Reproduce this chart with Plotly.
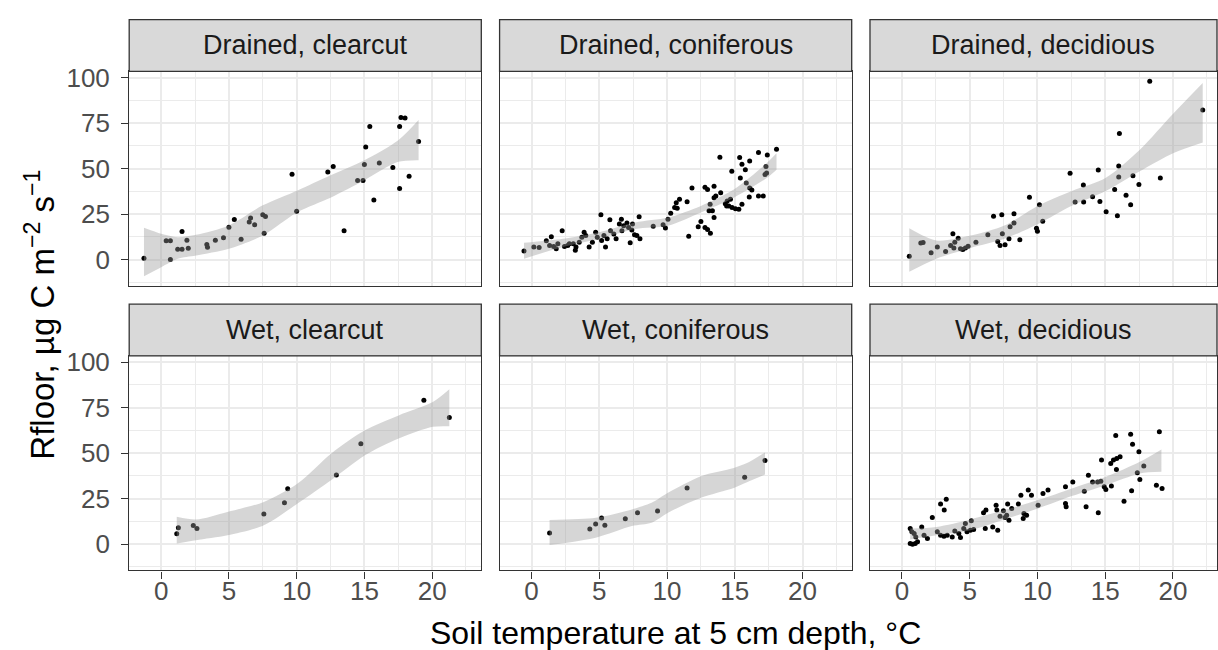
import plotly.graph_objects as go

# ---------------- data ----------------
panel_titles = ["Drained, clearcut", "Drained, coniferous", "Drained, decidious",
                "Wet, clearcut", "Wet, coniferous", "Wet, decidious"]

dc_x = [-1.27, 0.68, 1.54, 0.37, 0.68, 1.22, 1.54, 1.9, 2.0, 3.37, 3.42, 4.0, 4.6, 5.0, 5.4, 5.9,
        6.5, 6.6, 6.9, 7.5, 7.7, 7.6, 9.66, 10.0, 12.3, 12.7, 13.5, 14.5, 14.9, 15.0, 15.1, 15.4,
        15.7, 16.1, 17.1, 17.6, 17.6, 17.7, 18.0, 18.3, 19.0]
dc_y = [0.7, 0.0, 15.4, 10.3, 10.3, 5.7, 5.7, 10.7, 6.3, 8.3, 6.8, 10.7, 12.0, 17.8, 22.1, 11.2,
        20.6, 22.8, 19.1, 24.6, 23.7, 14.5, 46.9, 26.5, 48.2, 51.1, 15.8, 43.4, 43.4, 52.2, 61.9, 73.2,
        32.7, 53.1, 50.6, 73.2, 39.0, 78.1, 77.8, 45.8, 64.9]
dc_rx = [-1.27, 0.0, 1.22, 2.57, 5.0, 7.5, 10.07, 12.5, 15.0, 17.5, 19.0]
dc_lo = [-9.2, -4.2, 0.4, 2.2, 5.9, 13.2, 26.1, 34.0, 43.6, 53.7, 54.6]
dc_hi = [17.5, 14.2, 12.3, 13.6, 18.8, 29.8, 38.0, 46.3, 54.6, 65.6, 76.7]

dn_x = [-0.56, 0.17, 0.56, 1.09, 1.46, 1.33, 1.63, 1.82, 1.94, 2.26, 2.43, 2.67, 2.79, 3.08, 3.28,
        3.23, 3.52, 3.71, 3.88, 4.0, 4.25, 4.49, 4.73, 4.85, 5.12, 5.17, 5.34, 5.46, 5.58, 5.78,
        5.83, 6.07, 6.24, 6.48, 6.63, 6.67, 6.8, 7.04, 7.16, 7.28, 7.4, 7.45, 7.6, 7.77, 7.94,
        8.0, 8.98, 9.71, 9.88, 10.07, 10.27, 10.56, 10.68, 10.92, 10.75, 11.48, 11.6, 11.84, 12.3,
        12.5, 12.8, 12.99, 13.2, 12.8, 12.99, 13.47, 13.1, 13.35, 13.18, 13.47, 13.6, 13.47, 13.9,
        13.96, 14.3, 14.44, 14.56, 14.68, 14.4, 14.8, 15.05, 15.3, 14.78, 15.36, 15.53, 15.78,
        15.41, 15.53, 15.85, 16.1, 16.26, 16.1, 16.07, 16.75, 16.75, 17.1, 17.4, 17.3, 17.23,
        17.35, 18.08]
dn_y = [4.7, 6.9, 6.7, 10.3, 12.5, 7.8, 7.2, 6.0, 8.7, 15.9, 7.2, 7.8, 8.7, 8.7, 6.9,
        5.1, 9.6, 12.3, 15.0, 13.2, 6.9, 9.6, 15.0, 12.3, 24.6, 10.5, 13.2, 6.9, 11.4, 21.9,
        15.9, 14.1, 11.4, 19.5, 22.2, 15.9, 18.6, 20.1, 17.7, 9.2, 16.3, 19.5, 13.7, 13.2, 23.5,
        11.4, 18.3, 19.2, 17.4, 22.2, 25.5, 28.6, 31.3, 33.1, 28.2, 31.8, 12.8, 39.4, 18.1,
        21.0, 17.7, 16.5, 14.5, 39.8, 38.5, 40.3, 26.8, 26.8, 30.4, 34.0, 34.9, 23.1, 56.2,
        36.7, 30.7, 32.2, 29.5, 33.1, 29.5, 28.6, 28.0, 27.7, 48.5, 56.1, 52.4, 49.4,
        44.8, 30.4, 42.1, 39.4, 38.2, 54.2, 34.4, 58.8, 34.9, 34.9, 57.5, 51.2, 46.7,
        47.6, 60.6]
dn_rx = [-0.56, 2.32, 4.98, 7.65, 10.07, 12.5, 14.93, 17.35, 18.08]
dn_lo = [0.5, 6.9, 11.4, 16.8, 18.6, 25.9, 34.0, 44.8, 49.4]
dn_hi = [9.2, 11.4, 15.0, 20.4, 23.1, 29.5, 38.5, 53.0, 58.4]

dd_x = [0.54, 1.39, 1.56, 2.15, 2.61, 3.22, 3.59, 3.76, 3.9, 4.15, 3.83, 4.32, 4.49, 4.68, 4.88,
        5.46, 6.34, 6.76, 7.37, 8.27, 7.07, 7.24, 7.41, 7.61, 7.9, 7.98, 8.27, 8.7, 9.41, 9.93,
        10.0, 10.15, 10.39, 12.41, 12.78, 13.41, 14.07, 13.39, 14.49, 14.61, 15.07, 15.7, 16.0,
        16.0, 16.05, 15.9, 16.54, 16.88, 17.05, 17.49, 18.29, 19.07, 22.2]
dd_y = [1.8, 9.1, 9.4, 3.8, 6.9, 4.5, 7.8, 14.2, 9.6, 11.8, 6.4, 6.0, 5.6, 6.4, 7.4,
        9.6, 13.6, 23.8, 24.7, 25.2, 10.0, 7.8, 14.2, 8.2, 11.4, 18.1, 20.1, 10.9, 34.3, 17.2,
        15.6, 30.1, 21.1, 47.4, 31.6, 31.6, 34.5, 41.0, 49.2, 31.9, 26.3, 38.5, 45.4,
        51.4, 69.3, 24.1, 35.3, 30.1, 46.1, 41.2, 98.0, 44.8, 82.2]
dd_rx = [0.54, 2.54, 5.07, 7.56, 10.05, 12.54, 15.05, 17.56, 20.05, 22.2]
dd_lo = [-6.7, 0.5, 6.4, 11.4, 19.6, 29.6, 37.7, 48.6, 58.6, 64.4]
dd_hi = [17.2, 10.5, 13.2, 18.7, 29.6, 37.7, 45.0, 60.4, 80.4, 97.0]

wc_x = [1.15, 1.27, 2.37, 2.64, 7.58, 9.1, 9.34, 12.93, 14.74, 19.39, 21.27]
wc_y = [5.7, 9.0, 10.2, 8.6, 16.6, 22.7, 30.5, 38.0, 55.2, 79.0, 69.5]
wc_rx = [1.15, 2.57, 4.89, 7.58, 10.07, 12.54, 15.04, 17.53, 20.05, 21.27]
wc_lo = [0.4, 2.2, 4.9, 10.4, 22.3, 35.1, 48.8, 58.0, 64.4, 64.7]
wc_hi = [15.0, 13.5, 17.7, 23.2, 33.3, 49.7, 62.5, 70.7, 78.0, 85.0]

wn_x = [1.33, 4.3, 4.73, 5.17, 5.41, 6.92, 7.82, 9.3, 11.48, 15.73, 17.23]
wn_y = [6.2, 8.4, 11.1, 14.4, 10.4, 14.0, 17.3, 18.2, 30.9, 36.7, 46.0]
wn_rx = [1.33, 4.73, 7.4, 8.86, 10.07, 12.5, 14.93, 15.9, 17.23]
wn_lo = [-0.5, 3.6, 10.0, 11.8, 17.3, 25.5, 30.9, 34.0, 38.2]
wn_hi = [13.3, 14.5, 19.1, 22.7, 28.2, 37.3, 41.8, 44.5, 50.4]

wd_x = [0.61, 0.73, 0.9, 1.02, 0.61, 0.78, 0.98, 1.15, 1.46, 1.63, 1.88, 2.24, 2.61, 2.85, 3.1,
        3.34, 3.71, 2.85, 3.27, 3.12, 3.9, 4.2, 4.32, 4.56, 4.68, 4.8, 5.05, 5.12, 5.29, 6.02,
        6.2, 6.15, 6.7, 7.07, 6.95, 7.0, 7.24, 7.49, 7.61, 7.73, 7.9, 7.8, 8.1, 8.59, 8.78, 8.95,
        9.2, 9.32, 9.56, 9.0, 10.05, 10.41, 10.78, 12.07, 12.07, 12.12, 12.61, 13.46, 13.59, 13.76,
        14.07, 14.44, 14.68, 14.49, 14.73, 14.93, 15.05, 15.46, 15.41, 15.61, 15.85, 16.1, 15.83,
        15.78, 16.39, 16.88, 17.02, 17.49, 16.95, 17.37, 17.56, 17.85, 18.78, 19.2, 19.0]
wd_y = [8.6, 6.8, 5.9, 4.0, 0.4, 0.0, 0.4, 1.3, 9.5, 4.9, 3.1, 14.7, 6.8, 4.9, 4.4,
        4.9, 4.0, 22.0, 24.7, 18.7, 7.3, 5.9, 3.7, 8.6, 11.4, 6.8, 7.7, 12.8, 8.1, 17.2,
        18.7, 8.6, 9.5, 7.7, 21.4, 18.7, 15.4, 18.3, 14.7, 15.9, 13.2, 22.0, 19.6, 22.0, 26.9, 14.1,
        15.9, 29.7, 26.9, 16.8, 21.4, 27.8, 29.7, 31.5, 22.3, 20.5, 34.2, 29.1, 20.5, 37.9,
        34.2, 34.2, 34.6, 17.2, 46.2, 31.5, 30.0, 31.9, 44.3, 46.2, 47.1, 48.0, 41.0,
        59.7, 23.6, 60.4, 54.8, 50.7, 29.3, 39.2, 35.5, 42.9, 32.4, 30.6, 61.7]
wd_rx = [0.61, 2.54, 5.07, 7.56, 10.05, 12.54, 15.05, 17.56, 19.15]
wd_lo = [2.6, 4.9, 7.7, 13.6, 19.6, 26.4, 32.4, 38.8, 39.7]
wd_hi = [8.6, 9.5, 13.6, 18.7, 24.2, 30.6, 37.0, 45.2, 52.0]

x_ticks = [0, 5, 10, 15, 20]
y_ticks = [0, 25, 50, 75, 100]

panels = [
    (dc_x, dc_y, dc_rx, dc_lo, dc_hi),
    (dn_x, dn_y, dn_rx, dn_lo, dn_hi),
    (dd_x, dd_y, dd_rx, dd_lo, dd_hi),
    (wc_x, wc_y, wc_rx, wc_lo, wc_hi),
    (wn_x, wn_y, wn_rx, wn_lo, wn_hi),
    (wd_x, wd_y, wd_rx, wd_lo, wd_hi),
]

# ---------------- layout geometry (pixels) ----------------
W, H = 1218, 650
col_px = [(129.3, 481.7), (500.0, 852.4), (870.7, 1218.0)]
row_px = [(63.3, 280.7), (351.7, 569.3)]
strip_px = [(10.7, 63.3), (299.3, 351.7)]
X_LO, X_HI = -2.36, 23.63
PX_PER_X = (col_px[0][1] - col_px[0][0]) / (X_HI - X_LO)
Y_RANGE = [-14.4, 103.4]

BORDER = "#333333"
GRID = "#EBEBEB"
FONT = "Liberation Sans, Arial, sans-serif"

fig = go.Figure()
layout = dict(width=W, height=H, margin=dict(l=0, r=0, t=0, b=0),
              plot_bgcolor="white", paper_bgcolor="white", showlegend=False,
              font=dict(family=FONT))
shapes, annotations = [], []

for i, (px, py, rx, lo, hi) in enumerate(panels):
    r, c = divmod(i, 3)
    k = "" if i == 0 else str(i + 1)
    xa, ya = "x" + k, "y" + k
    fig.add_trace(go.Scatter(x=px, y=py, mode="markers", xaxis=xa, yaxis=ya,
                             marker=dict(color="black", size=5, line=dict(width=0)),
                             hoverinfo="skip"))
    fig.add_trace(go.Scatter(x=rx, y=lo, mode="lines", xaxis=xa, yaxis=ya,
                             line=dict(width=0, shape="spline", smoothing=0.8),
                             hoverinfo="skip"))
    fig.add_trace(go.Scatter(x=rx, y=hi, mode="lines", xaxis=xa, yaxis=ya, fill="tonexty",
                             fillcolor="rgba(153,153,153,0.4)",
                             line=dict(width=0, shape="spline", smoothing=0.8),
                             hoverinfo="skip"))

    x0p, x1p = col_px[c]
    y0p, y1p = row_px[r]
    xr_hi = X_LO + (x1p - x0p) / PX_PER_X
    bottom = (r == 1)
    left = (c == 0)
    xa_d = dict(
        domain=[x0p / W, x1p / W], anchor=ya, range=[X_LO, xr_hi],
        tickvals=x_ticks, showticklabels=bottom,
        ticks="outside" if bottom else "", ticklen=7, tickwidth=1.3,
        tickcolor=BORDER, tickfont=dict(size=26, color="#4D4D4D", family=FONT),
        showgrid=True, gridcolor=GRID, gridwidth=1.6, zeroline=False,
        minor=dict(dtick=2.5, tick0=0, showgrid=True, gridcolor=GRID, gridwidth=0.8, ticks=""),
        showline=True, mirror=True, linecolor=BORDER, linewidth=1.3)
    if bottom:
        xa_d["ticktext"] = [str(v) for v in x_ticks]
        xa_d["ticklabelstandoff"] = -10
    ya_d = dict(
        domain=[1 - y1p / H, 1 - y0p / H], anchor=xa, range=Y_RANGE,
        tickvals=y_ticks, showticklabels=left,
        ticks="outside" if left else "", ticklen=7, tickwidth=1.3,
        tickcolor=BORDER, tickfont=dict(size=26, color="#4D4D4D", family=FONT),
        showgrid=True, gridcolor=GRID, gridwidth=1.6, zeroline=False,
        minor=dict(dtick=12.5, tick0=0, showgrid=True, gridcolor=GRID, gridwidth=0.8, ticks=""),
        showline=True, mirror=True, linecolor=BORDER, linewidth=1.3)
    if left:
        ya_d["ticktext"] = [str(v) for v in y_ticks]
        ya_d["ticklabelstandoff"] = 6
    layout["xaxis" + k] = xa_d
    layout["yaxis" + k] = ya_d

    s0, s1 = strip_px[r]
    shapes.append(dict(type="rect", xref="paper", yref="paper",
                       x0=x0p / W, x1=x1p / W, y0=1 - s1 / H, y1=1 - s0 / H,
                       fillcolor="#D9D9D9", line=dict(color=BORDER, width=1.3), layer="above"))
    annotations.append(dict(text=panel_titles[i], xref="paper", yref="paper",
                            x=((x0p + min(x1p, x0p + 352.4)) / 2) / W, y=1 - ((s0 + s1) / 2) / H,
                            showarrow=False, xanchor="center", yanchor="middle",
                            font=dict(size=27, color="#1A1A1A", family=FONT)))

annotations.append(dict(text="Soil temperature at 5 cm depth, °C", xref="paper", yref="paper",
                        x=676 / W, y=1 - 633 / H, showarrow=False, xanchor="center",
                        yanchor="middle", font=dict(size=32, color="black", family=FONT)))
annotations.append(dict(text="Rfloor, µg C m<sup>−2</sup> s<sup>−1</sup>", xref="paper",
                        yref="paper", x=40 / W, y=1 - 310 / H, showarrow=False, textangle=-90,
                        xanchor="center", yanchor="middle",
                        font=dict(size=33, color="black", family=FONT)))

layout["shapes"] = shapes
layout["annotations"] = annotations
fig.update_layout(**layout)
fig.write_html("out.html")
